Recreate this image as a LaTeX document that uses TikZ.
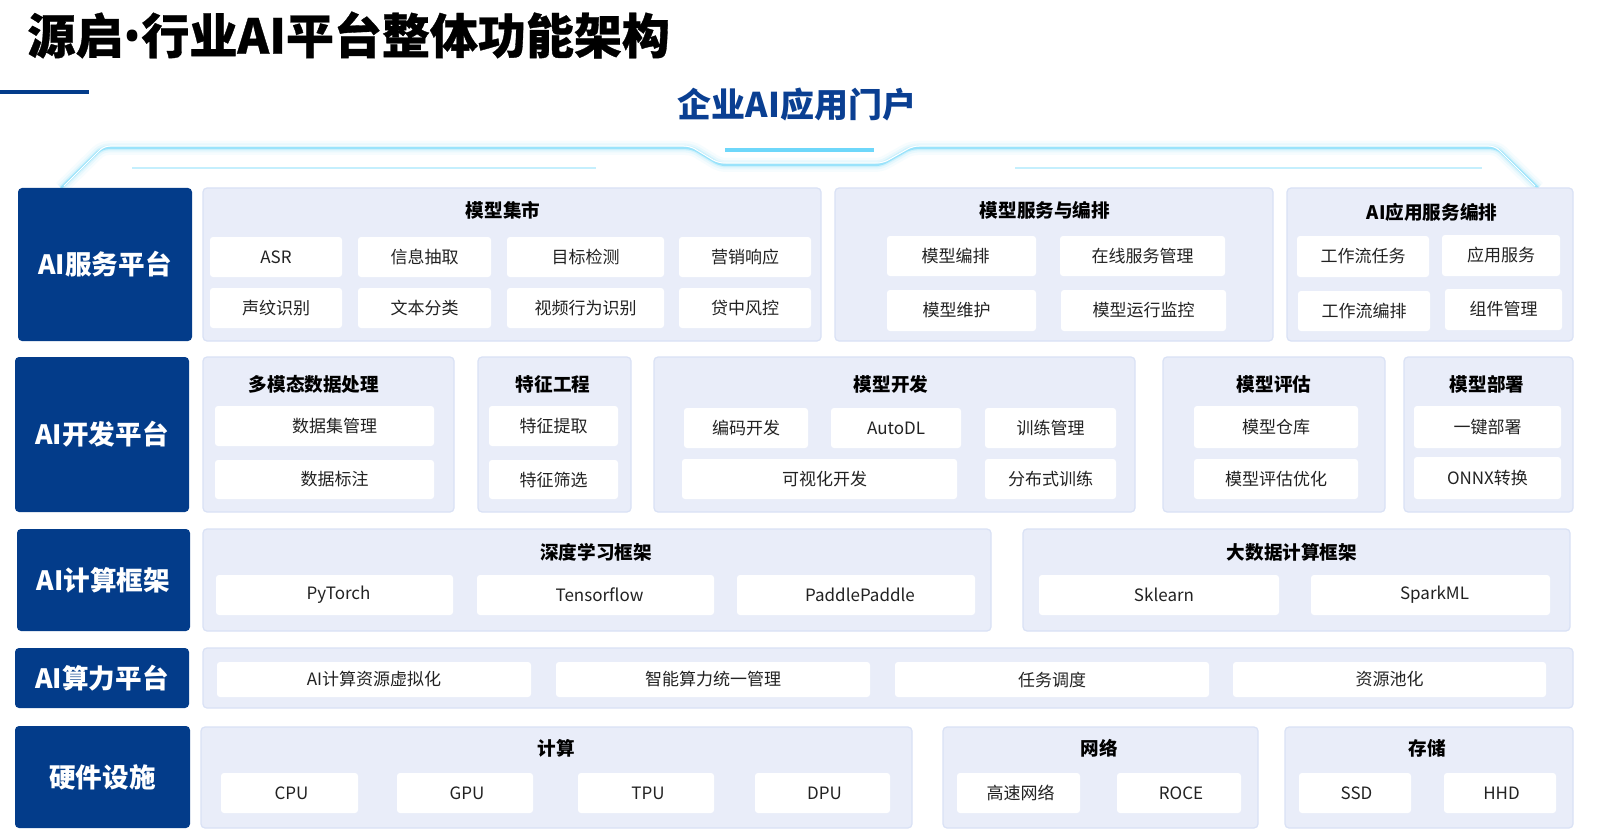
\documentclass[tikz,border=0pt]{standalone}
\usepackage{fontspec}
\setmainfont{Noto Sans CJK SC}
\newfontfamily\titlefont{Noto Sans CJK SC}[BoldFeatures={FakeBold=0.7}]
\newfontfamily\dotfont{Noto Sans}

\definecolor{darkblue}{RGB}{3,60,138}
\definecolor{headblue}{RGB}{10,63,146}
\definecolor{panelfill}{RGB}{233,237,249}
\definecolor{panelline}{RGB}{217,225,245}
\definecolor{itemtext}{RGB}{34,34,34}
\definecolor{glowcyan}{RGB}{110,215,250}

% box from (x1,y1) to (x2,y2) in pixels: name, style, x1, y1, x2, y2, text
\newcommand\blk[7]{%
  \node[#2, inner sep=0pt, minimum width={(#5-#3)*0.5pt}, minimum height={(#6-#4)*0.5pt}]
    (#1) at ({(#3+#5)/2},{(#4+#6)/2}) {#7};}

\tikzset{
  catbox/.style={fill=darkblue, rounded corners=2pt, text=white, font=\fontsize{13.3}{15}\selectfont\bfseries},
  panelbox/.style={fill=panelfill, draw=panelline, line width=0.6pt, rounded corners=2pt},
  itembox/.style={fill=white, rounded corners=1.5pt, text=itemtext, font=\fontsize{8.5}{10}\selectfont},
  paneltitle/.style={font=\fontsize{9.3}{11}\selectfont\bfseries, text=black},
  frame/.style={rounded corners=3pt},
}

\begin{document}
\begin{tikzpicture}[x=0.5pt, y=-0.5pt]
  \fill[white] (0,0) rectangle (1597,840);
  \useasboundingbox (0,0) rectangle (1597,840);

  % title and header
  \node[anchor=west, inner sep=0pt, font=\fontsize{24}{27}\selectfont\titlefont\bfseries] (title) at (27,35)
    {源启{\dotfont\bfseries•}行业AI平台整体功能架构};
  \fill[darkblue] (0,90) rectangle (89,94.5);
  \node[font=\fontsize{17}{20}\selectfont\bfseries, text=headblue] (portal) at (797,105) {企业AI应用门户};

  % glowing frame under the portal
  \foreach \w/\o in {14/0.06, 9/0.1, 5/0.18}
    \draw[frame, glowcyan, line width=\w*0.5pt, opacity=\o]
      (61,188) -- (102,148) -- (692,148) -- (720,165) -- (881,165) -- (911,148) -- (1497,148) -- (1538,188);
  \draw[frame, glowcyan!70, line width=1.2pt]
    (61,188) -- (102,148) -- (692,148) -- (720,165) -- (881,165) -- (911,148) -- (1497,148) -- (1538,188);
  \draw[frame, white, line width=0.5pt]
    (64,186) -- (104,146) -- (690,146) -- (718,163) -- (883,163) -- (913,146) -- (1495,146) -- (1535,186);
  \draw[glowcyan, line width=1.6pt] (725,150) -- (874,150);
  \draw[glowcyan!40, line width=0.6pt] (132,168) -- (596,168);
  \draw[glowcyan!40, line width=0.6pt] (1015,168) -- (1482,168);

  % AI服务平台
  \blk{svc}{catbox}{18}{188}{192}{341}{AI服务平台}
  \blk{mkt}{panelbox}{203}{188}{821}{341}{}
  \node[paneltitle] (mktt) at (503,210) {模型集市};
  \blk{asr}{itembox}{210}{237}{342}{277}{ASR}
  \blk{ie}{itembox}{358}{237}{491}{277}{信息抽取}
  \blk{det}{itembox}{507}{237}{664}{277}{目标检测}
  \blk{mkr}{itembox}{679}{237}{811}{277}{营销响应}
  \blk{vpr}{itembox}{210}{288}{342}{328}{声纹识别}
  \blk{txc}{itembox}{358}{288}{491}{328}{文本分类}
  \blk{vid}{itembox}{507}{288}{664}{328}{视频行为识别}
  \blk{loan}{itembox}{679}{288}{811}{328}{贷中风控}

  \blk{msv}{panelbox}{835}{188}{1273}{341}{}
  \node[paneltitle] (msvt) at (1045,210) {模型服务与编排};
  \blk{mo}{itembox}{887}{236}{1036}{276}{\hspace*{-6pt}模型编排}
  \blk{osm}{itembox}{1060}{236}{1225}{276}{在线服务管理}
  \blk{mm}{itembox}{887}{290}{1036}{331}{\hspace*{-5pt}模型维护}
  \blk{mrm}{itembox}{1061}{290}{1226}{331}{模型运行监控}

  \blk{app}{panelbox}{1287}{188}{1573}{341}{}
  \node[paneltitle] (appt) at (1432,212) {AI应用服务编排};
  \blk{wft}{itembox}{1297}{236}{1429}{277}{工作流任务}
  \blk{aps}{itembox}{1442}{235}{1560}{276}{应用服务}
  \blk{wfo}{itembox}{1298}{291}{1430}{331}{工作流编排}
  \blk{cpm}{itembox}{1445}{289}{1562}{330}{组件管理}

  % AI开发平台
  \blk{dev}{catbox}{15}{357}{189}{512}{AI开发平台}
  \blk{mmd}{panelbox}{203}{357}{454}{512}{}
  \node[paneltitle] (mmdt) at (314,384) {多模态数据处理};
  \blk{dsm}{itembox}{215}{406}{434}{446}{\hspace*{10pt}数据集管理}
  \blk{dla}{itembox}{215}{460}{434}{499}{\hspace*{10pt}数据标注}

  \blk{fe}{panelbox}{478}{357}{631}{512}{}
  \node[paneltitle] (fet) at (553,384) {特征工程};
  \blk{fex}{itembox}{489}{406}{618}{446}{特征提取}
  \blk{fsl}{itembox}{489}{460}{618}{499}{特征筛选}

  \blk{md}{panelbox}{654}{357}{1135}{512}{}
  \node[paneltitle] (mdt) at (891,384) {模型开发};
  \blk{cd}{itembox}{684}{408}{808}{448}{编码开发}
  \blk{adl}{itembox}{831}{408}{961}{448}{AutoDL}
  \blk{trm}{itembox}{985}{408}{1116}{448}{训练管理}
  \blk{vis}{itembox}{682}{459}{957}{499}{\hspace*{5pt}可视化开发}
  \blk{dtr}{itembox}{985}{459}{1116}{499}{分布式训练}

  \blk{me}{panelbox}{1163}{357}{1385}{512}{}
  \node[paneltitle] (met) at (1274,384) {模型评估};
  \blk{mrp}{itembox}{1194}{406}{1358}{448}{模型仓库}
  \blk{meo}{itembox}{1194}{459}{1358}{499}{模型评估优化}

  \blk{mdp}{panelbox}{1404}{357}{1573}{512}{}
  \node[paneltitle] (mdpt) at (1487,384) {模型部署};
  \blk{okd}{itembox}{1414}{406}{1561}{448}{一键部署}
  \blk{onnx}{itembox}{1414}{457}{1561}{499}{ONNX转换}

  % AI计算框架
  \blk{frm}{catbox}{17}{529}{190}{631}{AI计算框架}
  \blk{dl}{panelbox}{203}{529}{991}{631}{}
  \node[paneltitle] (dlt) at (596,552) {深度学习框架};
  \blk{pt}{itembox}{216}{575}{453}{615}{\hspace*{4pt}PyTorch}
  \blk{tf}{itembox}{477}{575}{714}{615}{\hspace*{4pt}Tensorflow}
  \blk{pp}{itembox}{737}{575}{975}{615}{\hspace*{4pt}PaddlePaddle}

  \blk{bd}{panelbox}{1023}{529}{1570}{631}{}
  \node[paneltitle] (bdt) at (1292,552) {大数据计算框架};
  \blk{skl}{itembox}{1039}{575}{1279}{615}{\hspace*{5pt}Sklearn}
  \blk{spk}{itembox}{1311}{575}{1550}{615}{\hspace*{4pt}SparkML}

  % AI算力平台
  \blk{cmp}{catbox}{15}{648}{189}{708}{AI算力平台}
  \blk{rp}{panelbox}{203}{648}{1573}{708}{}
  \blk{vrt}{itembox}{217}{662}{531}{697}{AI计算资源虚拟化}
  \blk{icm}{itembox}{556}{662}{870}{697}{智能算力统一管理}
  \blk{tsk}{itembox}{895}{662}{1209}{697}{任务调度}
  \blk{pool}{itembox}{1233}{662}{1546}{697}{资源池化}

  % 硬件设施
  \blk{hw}{catbox}{15}{726}{190}{828}{硬件设施}
  \blk{cal}{panelbox}{201}{727}{912}{828}{}
  \node[paneltitle] (calt) at (556,748) {计算};
  \blk{cpu}{itembox}{221}{773}{358}{813}{\hspace*{2pt}CPU}
  \blk{gpu}{itembox}{397}{773}{533}{813}{\hspace*{2pt}GPU}
  \blk{tpu}{itembox}{578}{773}{714}{813}{\hspace*{2pt}TPU}
  \blk{dpu}{itembox}{755}{773}{890}{813}{\hspace*{2pt}DPU}

  \blk{net}{panelbox}{943}{727}{1258}{828}{}
  \node[paneltitle] (nett) at (1099,748) {网络};
  \blk{hsn}{itembox}{957}{773}{1080}{813}{\hspace*{2pt}高速网络}
  \blk{roce}{itembox}{1117}{773}{1241}{813}{\hspace*{2pt}ROCE}

  \blk{sto}{panelbox}{1285}{727}{1573}{828}{}
  \node[paneltitle] (stot) at (1427,748) {存储};
  \blk{ssd}{itembox}{1299}{773}{1411}{813}{\hspace*{1.5pt}SSD}
  \blk{hhd}{itembox}{1444}{773}{1556}{813}{\hspace*{1.5pt}HHD}
\end{tikzpicture}
\end{document}
